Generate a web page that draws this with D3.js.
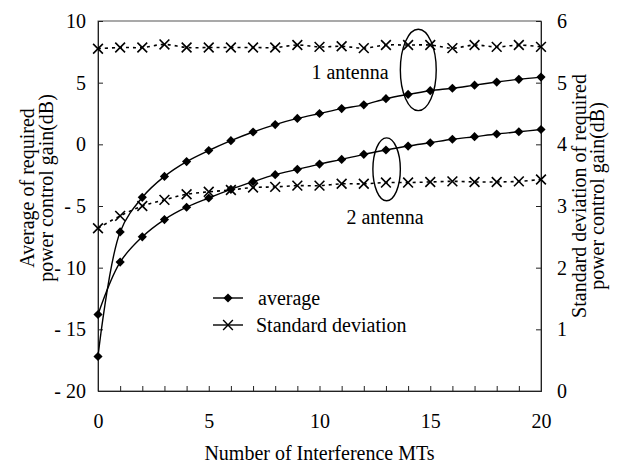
<!DOCTYPE html>
<html><head><meta charset="utf-8">
<script src="https://cdn.jsdelivr.net/npm/d3@7"></script>
<style>body{margin:0;background:#fff}svg{display:block}text{font-family:"Liberation Serif","Times New Roman",serif;fill:#000}</style>
</head><body>
<svg id="c" width="625" height="467"></svg>
<script>
const mts = d3.range(0,21);
const avg1 = [-17.2,-7.1,-4.3,-2.6,-1.4,-0.5,0.3,1.0,1.6,2.1,2.5,2.9,3.2,3.7,4.05,4.35,4.55,4.8,5.05,5.27,5.45];
const avg2 = [-13.8,-9.55,-7.5,-6.1,-5.1,-4.35,-3.65,-3.03,-2.46,-2.03,-1.6,-1.22,-0.81,-0.46,-0.14,0.13,0.41,0.62,0.84,1.02,1.2];
const std1 = [5.55,5.57,5.57,5.62,5.57,5.57,5.57,5.57,5.57,5.61,5.58,5.59,5.56,5.61,5.61,5.61,5.56,5.61,5.58,5.61,5.58];
const std2 = [2.64,2.84,3.0,3.1,3.19,3.23,3.26,3.3,3.31,3.33,3.33,3.36,3.36,3.38,3.38,3.39,3.4,3.39,3.39,3.4,3.43];
const leftTicks = [-20,-15,-10,-5,0,5,10];
const rightTicks = [0,1,2,3,4,5,6];
const xLabels = [0,5,10,15,20];

const svg = d3.select("#c");
const L=98,R=541,T=21,B=391;
const x = d3.scaleLinear([0,20],[L,R]);
const yL = d3.scaleLinear([-20,10],[B,T]);
const yR = d3.scaleLinear([0,6],[B,T]);
const FS = 20;

svg.append("rect").attr("x",L).attr("y",T).attr("width",R-L).attr("height",B-T)
  .attr("fill","none").attr("stroke","#555").attr("stroke-width",1);

const ax = (g)=>{g.select(".domain").attr("stroke","#222");g.selectAll(".tick line").attr("stroke","#222");
  g.selectAll("text").attr("font-family",'"Liberation Serif",serif').attr("font-size",FS).attr("fill","#000");};

svg.append("g").attr("transform",`translate(${L},0)`)
  .call(d3.axisLeft(yL).tickValues(leftTicks).tickSize(-5).tickPadding(12).tickFormat(d=>d<0?"-\u2005"+(-d):String(d)))
  .call(ax);
svg.append("g").attr("transform",`translate(${R},0)`)
  .call(d3.axisRight(yR).tickValues(rightTicks).tickSize(-5).tickPadding(16).tickFormat(d=>String(d)))
  .call(ax);
svg.append("g").attr("transform",`translate(0,${B})`)
  .call(d3.axisBottom(x).tickValues(mts).tickSize(-5).tickPadding(23).tickFormat(d=>xLabels.includes(d)?String(d):""))
  .call(ax);

svg.append("text").attr("transform","translate(34,188) rotate(-90)").attr("text-anchor","middle").attr("font-size",FS).text("Average of required");
svg.append("text").attr("transform","translate(53,188) rotate(-90)").attr("text-anchor","middle").attr("font-size",FS).text("power control gain(dB)");
svg.append("text").attr("transform","translate(586,196) rotate(-90)").attr("text-anchor","middle").attr("font-size",FS).text("Standard deviation of required");
svg.append("text").attr("transform","translate(604,196) rotate(-90)").attr("text-anchor","middle").attr("font-size",FS).text("power control gain(dB)");
svg.append("text").attr("x",(L+R)/2).attr("y",460).attr("text-anchor","middle").attr("font-size",FS).text("Number of Interference MTs");

const curve = d3.curveCatmullRom.alpha(0.5);
const lineL = d3.line().x((d,i)=>x(mts[i])).y(d=>yL(d)).curve(curve);
const lineR = d3.line().x((d,i)=>x(mts[i])).y(d=>yR(d)).curve(curve);

const diamond = d3.symbol(d3.symbolSquare,42)();
const cross = d3.symbol(d3.symbolTimes,64)();

function stdSeries(vals){
  svg.append("path").attr("d",lineR(vals)).attr("fill","none").attr("stroke","#000").attr("stroke-width",1.6).attr("stroke-dasharray","3,4");
  svg.append("g").selectAll("path").data(vals).join("path")
    .attr("transform",(d,i)=>`translate(${x(mts[i])},${yR(d)})`).attr("d",cross)
    .attr("fill","none").attr("stroke","#000").attr("stroke-width",1.6);
}
function avgSeries(vals){
  svg.append("path").attr("d",lineL(vals)).attr("fill","none").attr("stroke","#000").attr("stroke-width",1.4);
  svg.append("g").selectAll("path").data(vals).join("path")
    .attr("transform",(d,i)=>`translate(${x(mts[i])},${yL(d)}) rotate(45)`).attr("d",diamond).attr("fill","#000");
}
stdSeries(std1); stdSeries(std2);
avgSeries(avg1); avgSeries(avg2);

const ell = (cx,cy,rx,ry)=>svg.append("ellipse").attr("cx",x(cx)).attr("cy",yL(cy)).attr("rx",x(rx)-x(0)).attr("ry",yL(0)-yL(ry))
  .attr("fill","none").attr("stroke","#000").attr("stroke-width",1.4);
ell(14.46,6.03,0.81,3.3);
ell(13.03,-2.03,0.62,2.55);
svg.append("text").attr("x",350).attr("y",79).attr("text-anchor","middle").attr("font-size",FS).text("1 antenna");
svg.append("text").attr("x",385).attr("y",224).attr("text-anchor","middle").attr("font-size",FS).text("2 antenna");

const lg = svg.append("g");
lg.append("line").attr("x1",213).attr("x2",243).attr("y1",298).attr("y2",298).attr("stroke","#000").attr("stroke-width",1.4);
lg.append("path").attr("transform","translate(228,298) rotate(45)").attr("d",diamond).attr("fill","#000");
lg.append("text").attr("x",258).attr("y",305).attr("font-size",FS).text("average");
lg.append("line").attr("x1",213).attr("x2",243).attr("y1",325).attr("y2",325).attr("stroke","#000").attr("stroke-width",1.4);
lg.append("path").attr("transform","translate(228,325)").attr("d",cross).attr("fill","none").attr("stroke","#000").attr("stroke-width",1.4);
lg.append("text").attr("x",256).attr("y",332).attr("font-size",FS).text("Standard deviation");
</script>
</body></html>
